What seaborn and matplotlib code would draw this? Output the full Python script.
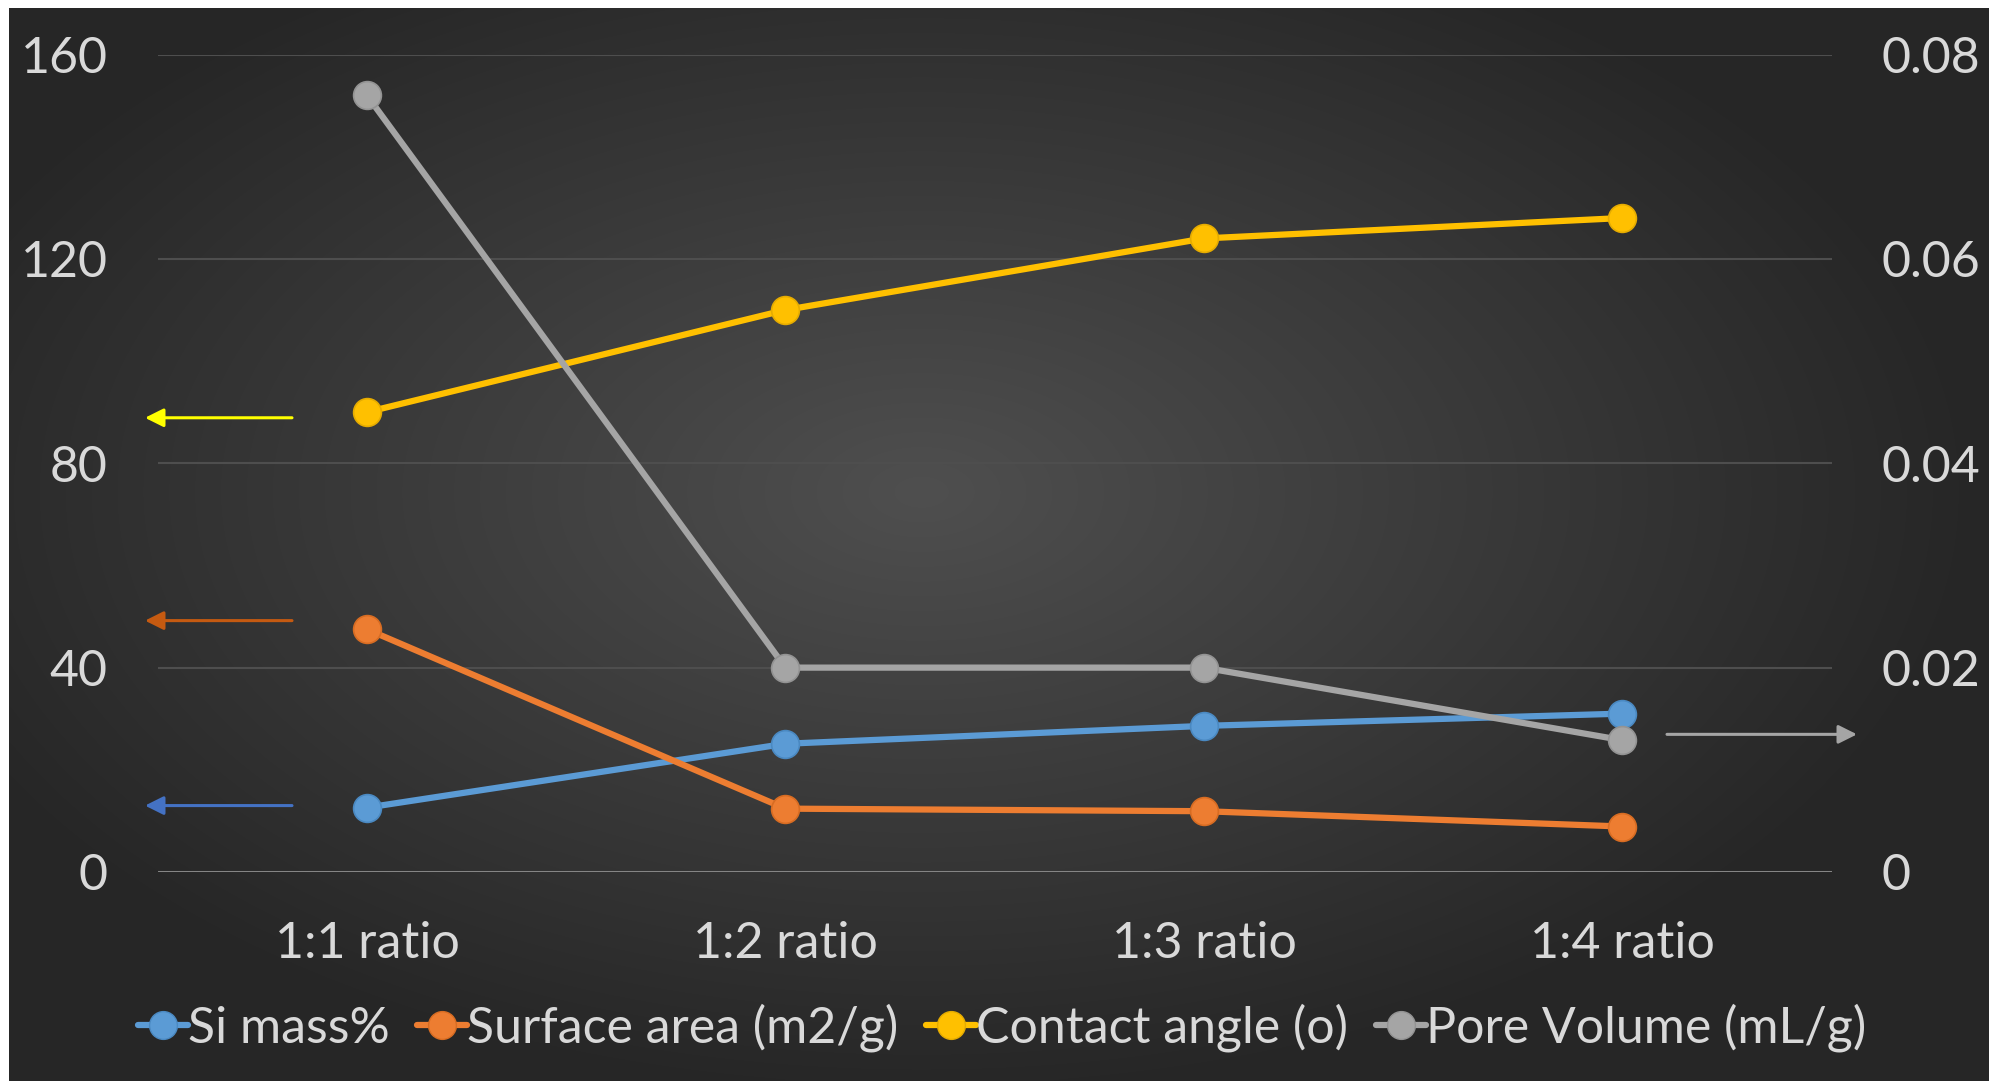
import numpy as np
import pandas as pd
import matplotlib
matplotlib.use("Agg")
import matplotlib.pyplot as plt
import seaborn as sns
from matplotlib.lines import Line2D

# data
ratios = ["1:1 ratio", "1:2 ratio", "1:3 ratio", "1:4 ratio"]
si_mass = [12.6, 25.1, 28.6, 31.0]
surface_area = [47.5, 12.4, 11.9, 8.9]
contact_angle = [90.0, 110.0, 124.0, 128.0]
pore_volume = [0.076, 0.020, 0.020, 0.0129]

left_names = ["Si mass%", "Surface area (m2/g)", "Contact angle (o)"]
right_name = "Pore Volume (mL/g)"
colors = {"Si mass%": "#5B9BD5", "Surface area (m2/g)": "#ED7D31",
          "Contact angle (o)": "#FFC000", "Pore Volume (mL/g)": "#A5A5A5"}
edge_colors = {"Si mass%": "#4A89C2", "Surface area (m2/g)": "#D86C22",
               "Contact angle (o)": "#E6AC00", "Pore Volume (mL/g)": "#939393"}

left_ticks = [0, 40, 80, 120, 160]
right_ticks = [0, 0.02, 0.04, 0.06, 0.08]
right_labels = ["0", "0.02", "0.04", "0.06", "0.08"]

# annotation arrows: (axis, y value, colour)
arrows = [("left", 88.9, "#FFFF00"), ("left", 49.2, "#C55A11"),
          ("left", 13.0, "#4472C4"), ("right", 0.01347, "#A5A5A5")]

df_left = pd.DataFrame({
    "ratio": ratios * 3,
    "value": si_mass + surface_area + contact_angle,
    "series": sum([[n] * 4 for n in left_names], []),
})
df_right = pd.DataFrame({"ratio": ratios, "value": pore_volume,
                         "series": [right_name] * 4})

sns.set_theme(style="dark")
plt.rcParams["font.family"] = ["Lato", "DejaVu Sans"]
text_color = "#D9D9D9"
fs = 36

W, H = 1990, 1083
fig = plt.figure(figsize=(W / 100, H / 100), dpi=100)
fig.patch.set_facecolor("white")

# radial gradient background
bg = fig.add_axes([9 / W, 2 / H, (W - 9) / W, (H - 10) / H])
yy, xx = np.mgrid[0:400, 0:730]
cx, cy = 0.46 * 730, 0.45 * 400
r = np.sqrt(((xx - cx) / 730) ** 2 + ((yy - cy) / 400) ** 2 * 0.9)
shade = np.clip(0.31 - 0.30 * r, 0.15, 0.31)
bg.imshow(np.dstack([shade] * 3), aspect="auto", interpolation="bicubic")
bg.axis("off")

ax = fig.add_axes([157.7 / W, 1 - 872 / H, (1831.7 - 157.7) / W, (872 - 54.5) / H])
ax.set_facecolor("none")

sns.lineplot(data=df_left, x="ratio", y="value", hue="series", palette=colors,
             hue_order=left_names, marker="o", markersize=20, linewidth=4.5,
             sort=False, ax=ax, legend=False, zorder=3)
for line, name in zip(ax.lines, left_names):
    line.set_markeredgecolor(edge_colors[name])
    line.set_markeredgewidth(1.2)

ax.set_xlim(-0.5, 3.5)
ax.set_ylim(0, 160)
ax.set_yticks(left_ticks)
ax.set_yticklabels([str(t) for t in left_ticks])
ax.set_xlabel("")
ax.set_ylabel("")
ax.grid(axis="y", color="#4E4E4E", linewidth=1.5)
ax.grid(axis="x", visible=False)
ax.axhline(0, color="#8C8C8C", linewidth=2, zorder=2)
for s in ax.spines.values():
    s.set_visible(False)
ax.tick_params(axis="y", length=0, pad=36, labelsize=fs, labelcolor=text_color)
ax.tick_params(axis="x", length=0, pad=35, labelsize=fs, labelcolor=text_color)

ax2 = ax.twinx()
sns.lineplot(data=df_right, x="ratio", y="value", color=colors[right_name],
             marker="o", markersize=20, linewidth=4.5, sort=False, ax=ax2,
             legend=False, zorder=3)
ax2.lines[0].set_markeredgecolor(edge_colors[right_name])
ax2.lines[0].set_markeredgewidth(1.2)
ax2.set_ylim(0, 0.08)
ax2.set_yticks(right_ticks)
ax2.set_yticklabels(right_labels)
ax2.set_ylabel("")
ax2.grid(False)
for s in ax2.spines.values():
    s.set_visible(False)
ax2.tick_params(axis="y", length=0, pad=36, labelsize=fs, labelcolor=text_color)

# arrows pointing to the axis each series belongs to
for side, yv, col in arrows:
    if side == "left":
        x0, x1, target = 292 / W, 145 / W, ax
    else:
        x0, x1, target = 1667 / W, 1857 / W, ax2
    target.annotate("", xy=(x1, yv), xytext=(x0, yv),
                    xycoords=("figure fraction", "data"),
                    textcoords=("figure fraction", "data"),
                    arrowprops=dict(arrowstyle="-|>", color=col, lw=2.2,
                                    mutation_scale=28, shrinkA=0, shrinkB=0),
                    annotation_clip=False)

handles = [Line2D([], [], color=colors[n], marker="o", markersize=20,
                  markeredgecolor=edge_colors[n], linewidth=4.5)
           for n in left_names + [right_name]]
fig.legend(handles, left_names + [right_name], loc="center",
           bbox_to_anchor=(1002 / W, 1 - 1028 / H), ncol=4, frameon=False,
           fontsize=fs, labelcolor=text_color, handlelength=1.0,
           handletextpad=0.0, columnspacing=0.55)

fig.savefig("out.png", dpi=100)
